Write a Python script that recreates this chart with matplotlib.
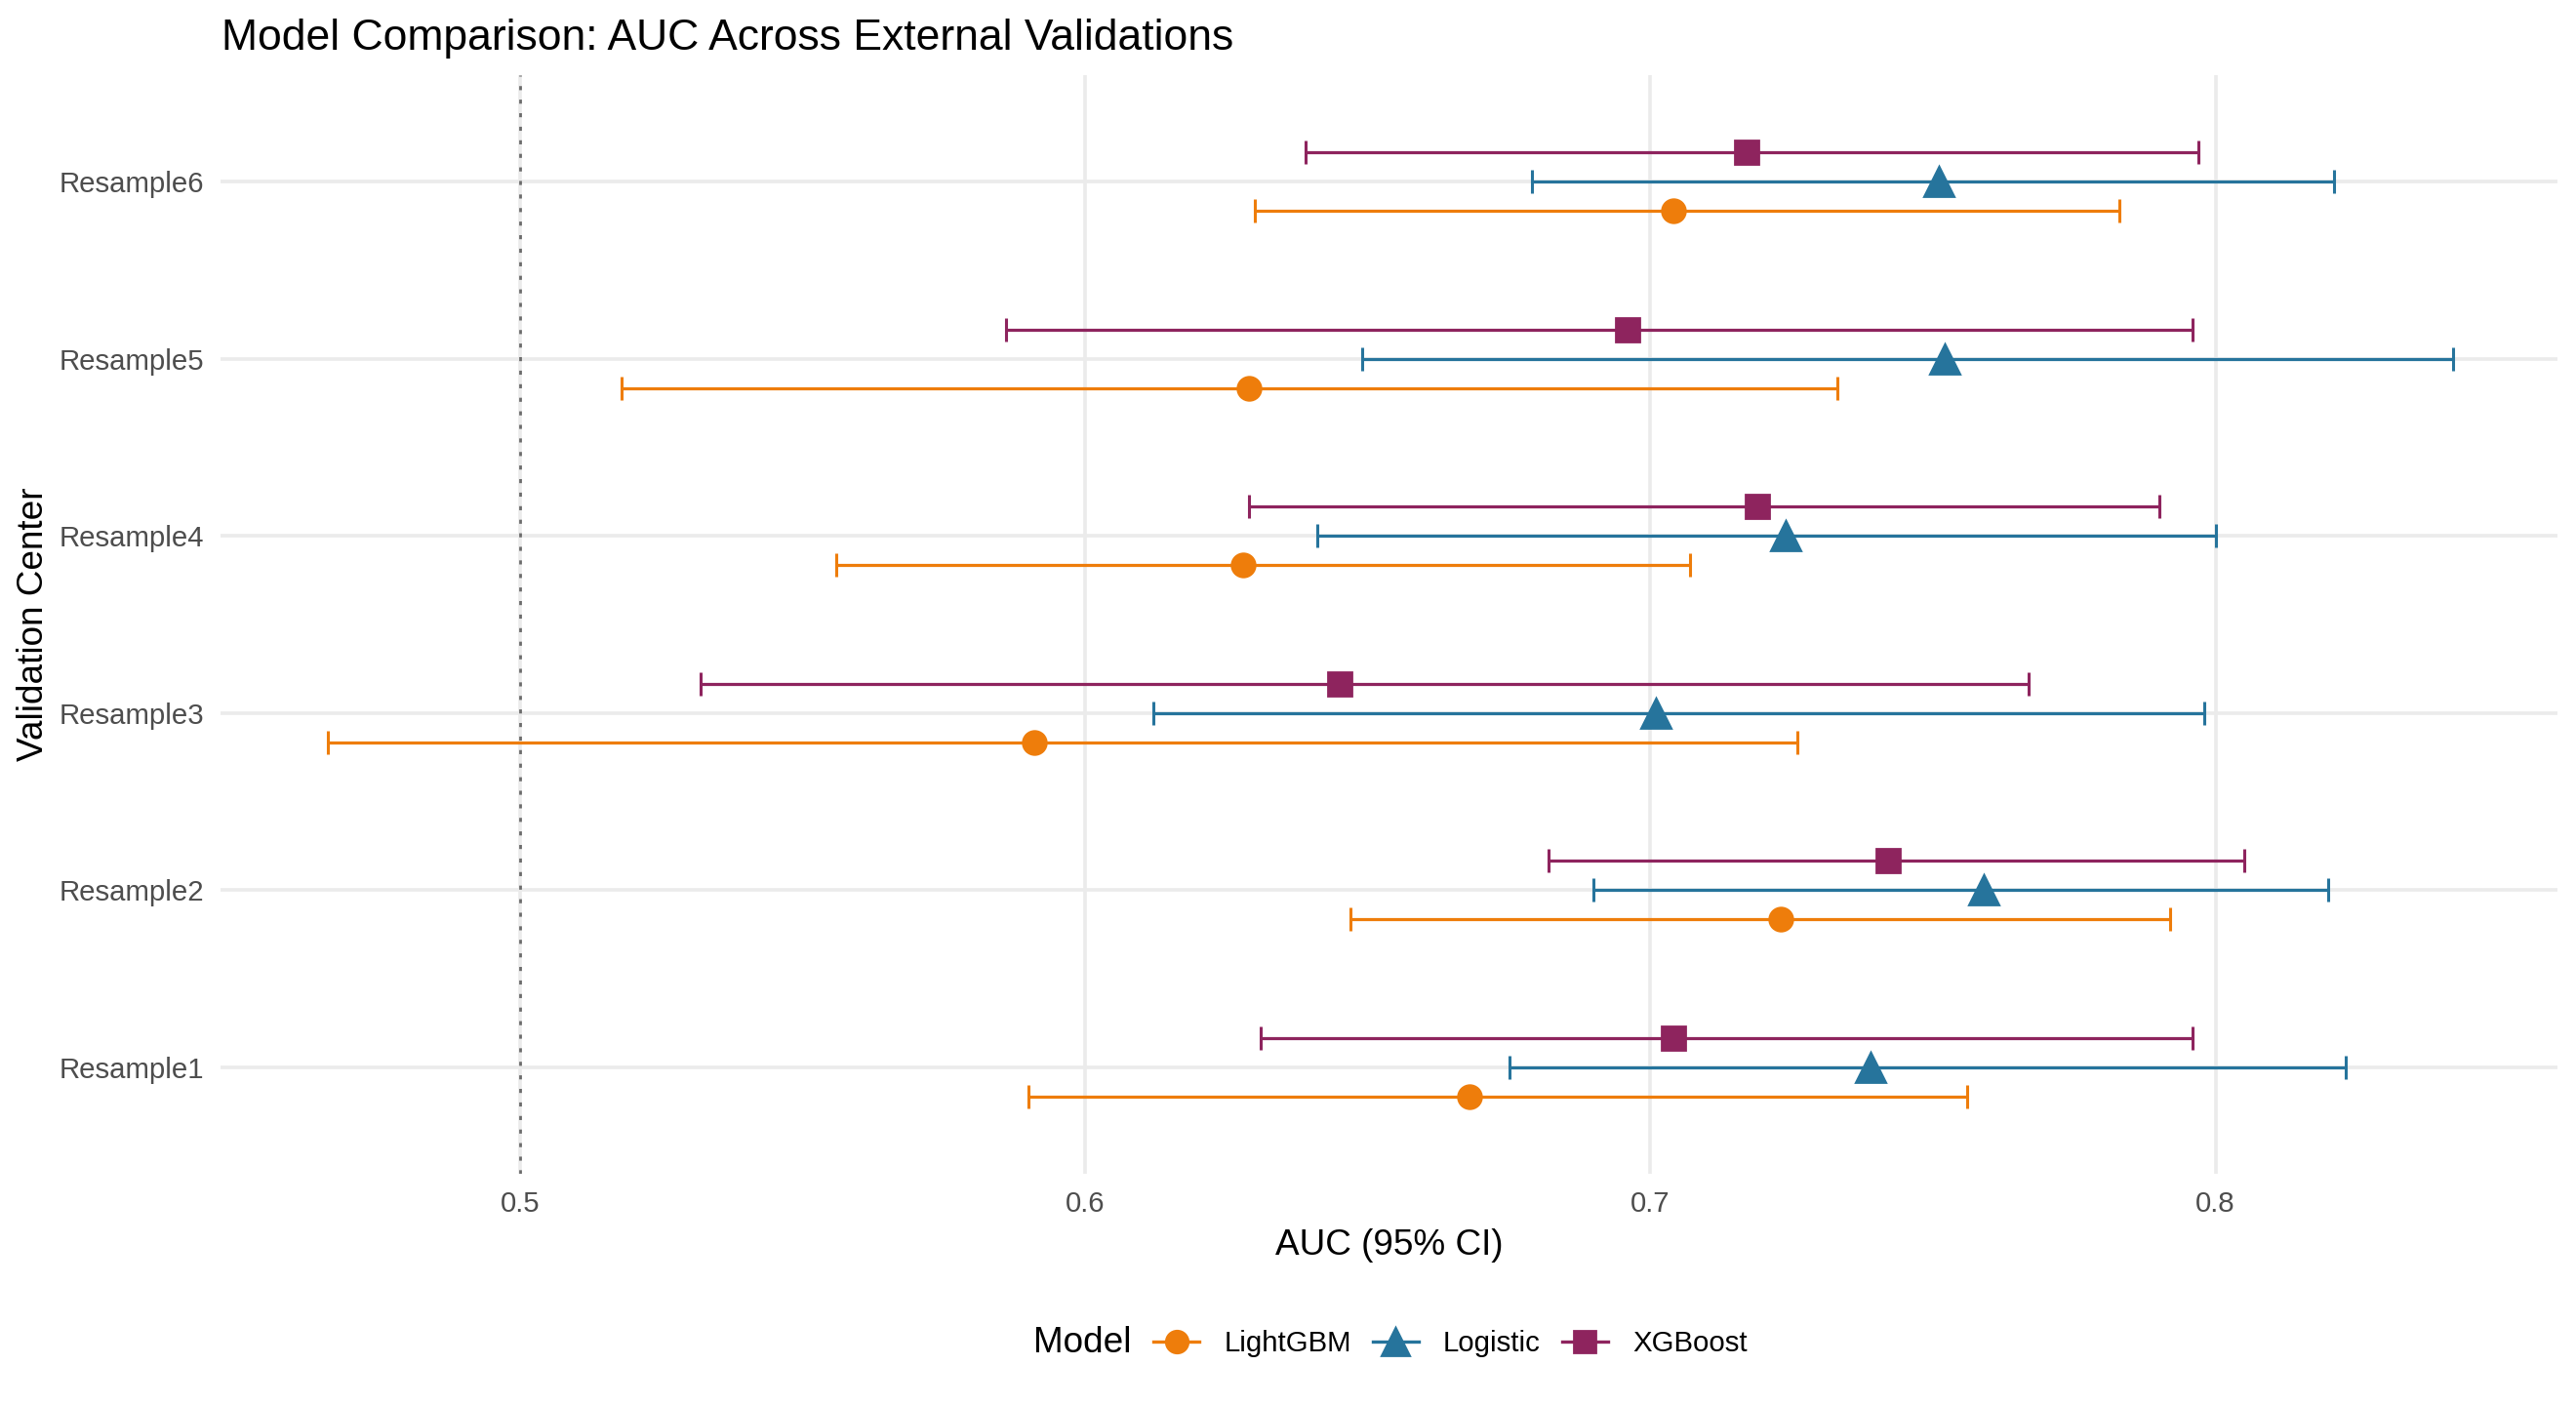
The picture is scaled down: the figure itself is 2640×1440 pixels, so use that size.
import numpy as np
import matplotlib
matplotlib.use("Agg")
from matplotlib import pyplot as plt
from matplotlib.lines import Line2D

plt.rcParams['font.family'] = ['Liberation Sans', 'DejaVu Sans']

centers = ["Resample1", "Resample2", "Resample3", "Resample4", "Resample5", "Resample6"]
models = ["LightGBM", "Logistic", "XGBoost"]

# AUC point estimates and 95% CI, one list per model, ordered Resample1..Resample6
lgbm_auc = [0.668, 0.723, 0.591, 0.628, 0.629, 0.704]
lgbm_lo = [0.590, 0.647, 0.466, 0.556, 0.518, 0.630]
lgbm_hi = [0.756, 0.792, 0.726, 0.707, 0.733, 0.783]

logit_auc = [0.739, 0.759, 0.701, 0.724, 0.752, 0.751]
logit_lo = [0.675, 0.690, 0.612, 0.641, 0.649, 0.679]
logit_hi = [0.823, 0.820, 0.798, 0.800, 0.842, 0.821]

xgb_auc = [0.704, 0.742, 0.645, 0.719, 0.696, 0.717]
xgb_lo = [0.631, 0.682, 0.532, 0.629, 0.586, 0.639]
xgb_hi = [0.796, 0.805, 0.767, 0.790, 0.796, 0.797]

colors = {"LightGBM": "#EE7D0B", "Logistic": "#26749C", "XGBoost": "#8E245E"}
markers = {"LightGBM": "o", "Logistic": "^", "XGBoost": "s"}
msizes = {"LightGBM": 8.5, "Logistic": 10.5, "XGBoost": 8.5}
offsets = {"LightGBM": -0.165, "Logistic": 0.0, "XGBoost": 0.165}
data = {
    "LightGBM": (lgbm_auc, lgbm_lo, lgbm_hi),
    "Logistic": (logit_auc, logit_lo, logit_hi),
    "XGBoost": (xgb_auc, xgb_lo, xgb_hi),
}

fig = plt.figure(figsize=(13.2, 7.2), dpi=200)
ax = fig.add_axes([0.0856, 0.1646, 0.9072, 0.7819])

ypos = np.arange(1, len(centers) + 1)

# grid
for t in [0.5, 0.6, 0.7, 0.8]:
    ax.axvline(t, color="#EBEBEB", lw=1.3, zorder=0)
for y in ypos:
    ax.axhline(y, color="#EBEBEB", lw=1.3, zorder=0)
ax.axvline(0.5, color="#6B6B6B", lw=1.0, ls=(0, (1.5, 3.5)), zorder=1)

for m in models:
    auc, lo, hi = [np.array(v) for v in data[m]]
    yy = ypos + offsets[m]
    ax.errorbar(auc, yy, xerr=[auc - lo, hi - auc], fmt="none", ecolor=colors[m],
                elinewidth=1.15, capsize=4.3, capthick=1.1, zorder=2)
for m in models:
    auc = np.array(data[m][0])
    yy = ypos + offsets[m]
    ax.plot(auc, yy, ls="none", marker=markers[m], ms=msizes[m], color=colors[m],
            mec=colors[m], zorder=3)

ax.set_xlim(0.447, 0.8605)
ax.set_ylim(0.4, 6.6)
ax.set_xticks([0.5, 0.6, 0.7, 0.8])
ax.set_xticklabels(["0.5", "0.6", "0.7", "0.8"])
ax.set_yticks(ypos)
ax.set_yticklabels(centers)
ax.tick_params(length=0, labelsize=10.6, labelcolor="#4D4D4D", pad=6)
for s in ax.spines.values():
    s.set_visible(False)

ax.set_xlabel("AUC (95% CI)", fontsize=13.3, labelpad=4)
ax.set_ylabel("Validation Center", fontsize=13.3, labelpad=3)
ax.set_title("Model Comparison: AUC Across External Validations", loc="left",
             fontsize=16, pad=9.5, x=0.0005)

handles = [Line2D([], [], color=colors[m], marker=markers[m], ms=msizes[m] * 0.95, lw=1.2)
           for m in models]
fig.text(1059 / 2640, 1 - 1377 / 1440, "Model", fontsize=13.3, va="center", ha="left")
fig.legend(handles, models, loc="center left", bbox_to_anchor=(1182 / 2640, 1 - 1377 / 1440),
           ncol=3, frameon=False, fontsize=10.6, handlelength=1.6, handletextpad=0.85,
           columnspacing=0.75, borderpad=0, borderaxespad=0)

fig.savefig("out.png", dpi=200)
